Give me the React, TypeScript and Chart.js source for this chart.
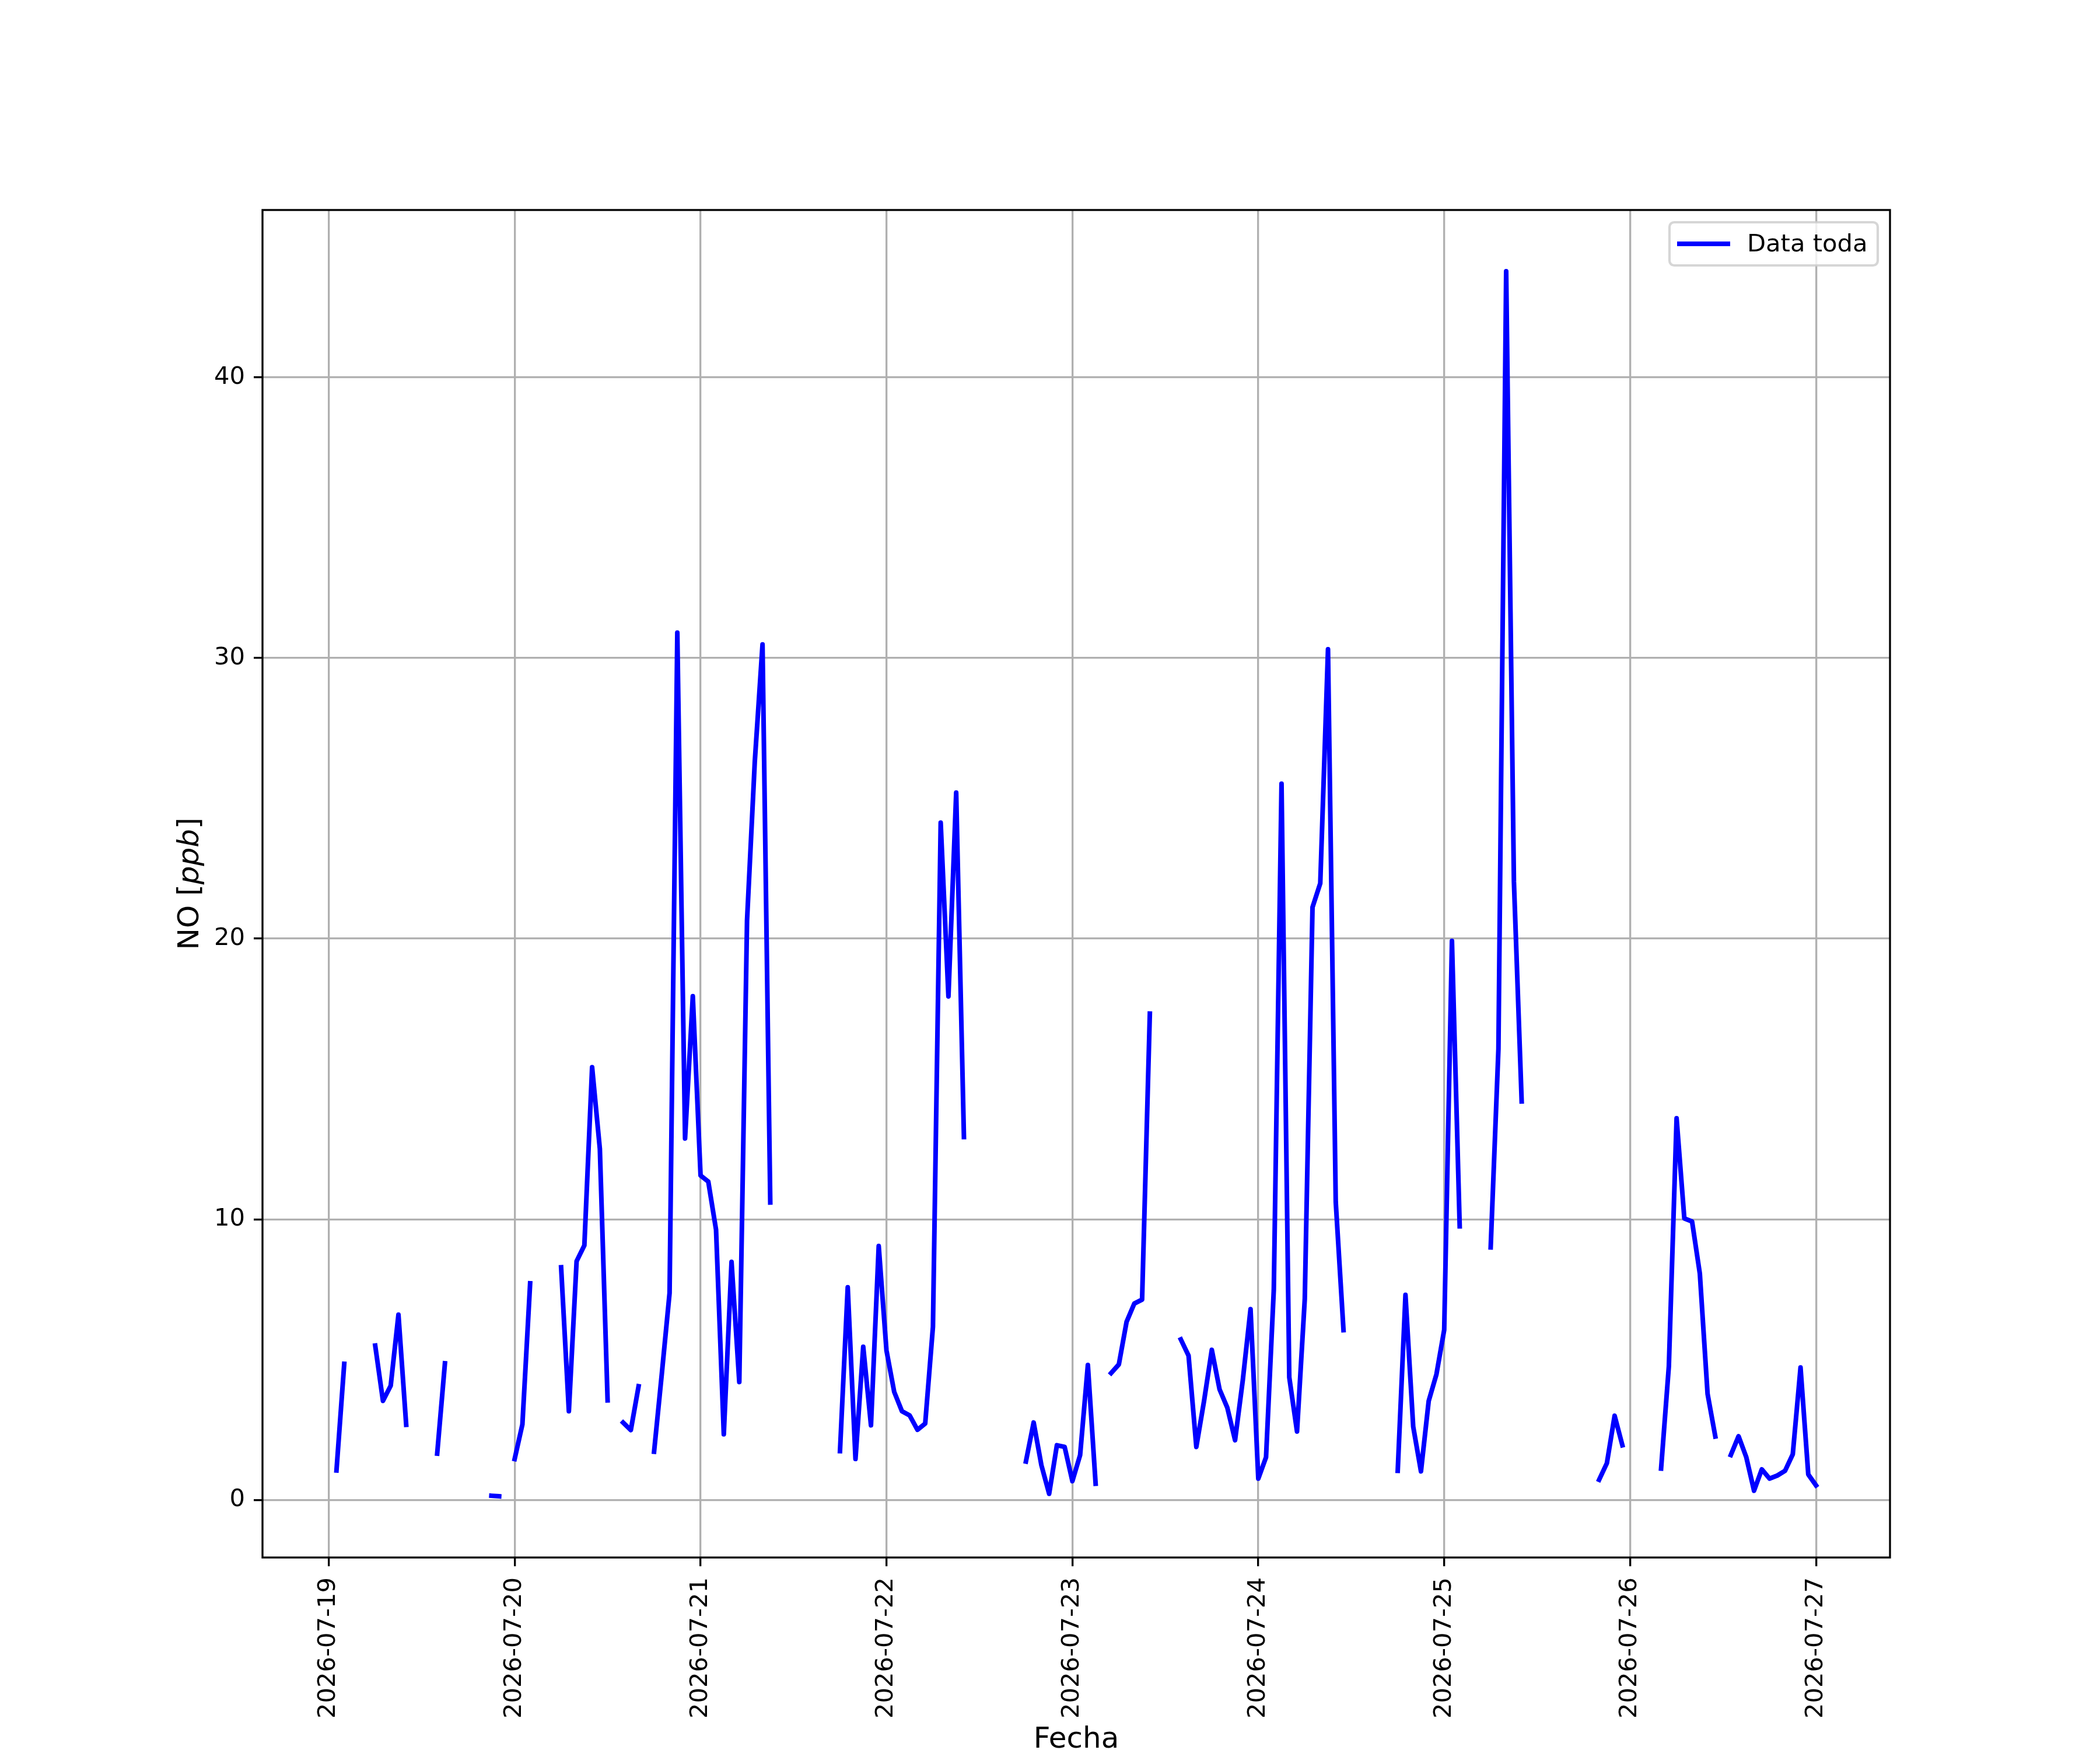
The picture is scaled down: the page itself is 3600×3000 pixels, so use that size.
import React, { useEffect, useRef } from "react";
import { Chart, registerables } from "chart.js";

Chart.register(...registerables);

// Tick labels (one per day, midnight)
const dateLabels = [
  "2026-07-19", "2026-07-20", "2026-07-21", "2026-07-22", "2026-07-23",
  "2026-07-24", "2026-07-25", "2026-07-26", "2026-07-27",
];
const yTicks = [0, 10, 20, 30, 40];
const seriesLabel = "Data toda";

// Hourly NO values [ppb], one array per day starting at 00:00 (null = no data)
const day19 = [null, 1.05, 4.85, null, null, null, 5.5, 3.53, 4.07, 6.6, 2.68, null, null, null, 1.65, 4.87, null, null, null, null, null, 0.15, 0.13, null];
const day20 = [1.46, 2.69, 7.72, null, null, null, 8.29, 3.16, 8.51, 9.07, 15.42, 12.51, 3.55, null, 2.76, 2.49, 4.05, null, 1.72, 4.5, 7.37, 30.9, 12.88, 17.95];
const day21 = [11.56, 11.34, 9.63, 2.34, 8.48, 4.2, 20.64, 26.3, 30.48, 10.6, null, null, null, null, null, null, null, null, 1.74, 7.58, 1.46, 5.46, 2.66, 9.05];
const day22 = [5.33, 3.85, 3.16, 3.01, 2.5, 2.72, 6.17, 24.13, 17.94, 25.2, 12.93, null, null, null, null, null, null, null, 1.37, 2.76, 1.24, 0.22, 1.95, 1.89];
const day23 = [0.67, 1.6, 4.81, 0.58, null, 4.52, 4.83, 6.35, 7.0, 7.14, 17.33, null, null, null, 5.72, 5.14, 1.89, 3.53, 5.35, 3.94, 3.29, 2.13, 4.27, 6.8];
const day24 = [0.76, 1.52, 7.48, 25.52, 4.37, 2.44, 7.15, 21.12, 21.97, 30.31, 10.61, 6.05, null, null, null, null, null, null, 1.04, 7.31, 2.61, 1.02, 3.53, 4.48];
const day25 = [6.06, 19.92, 9.75, null, null, null, 9.0, 16.06, 43.78, 22.03, 14.2, null, null, null, null, null, null, null, null, null, 0.72, 1.31, 3.0, 1.95];
const day26 = [null, null, null, null, 1.12, 4.76, 13.6, 10.03, 9.92, 8.07, 3.78, 2.26, null, 1.6, 2.27, 1.52, 0.33, 1.09, 0.76, 0.87, 1.04, 1.63, 4.72, 0.91];
const day27 = [0.52];

const FONT = "'DejaVu Sans'";
const LINE_W = 8;

export default function App() {
  const ref = useRef<HTMLCanvasElement>(null);

  useEffect(() => {
    const values: (number | null)[] = [
      ...day19, ...day20, ...day21, ...day22, ...day23, ...day24, ...day25, ...day26, ...day27,
    ];
    const points = values.map((v, i) => ({ x: i, y: v }));

    const decorPlugin = {
      id: "decor",
      afterDraw(chart: any) {
        const { ctx, chartArea: a } = chart;
        ctx.save();
        // axes frame (spines)
        ctx.strokeStyle = "#000000";
        ctx.lineWidth = 3.33;
        ctx.lineJoin = "miter";
        ctx.strokeRect(a.left, a.top, a.right - a.left, a.bottom - a.top);

        // legend box
        const lx = 2862, ly = 381, lw = 357, lh = 74, r = 8;
        ctx.beginPath();
        ctx.moveTo(lx + r, ly);
        ctx.lineTo(lx + lw - r, ly);
        ctx.arcTo(lx + lw, ly, lx + lw, ly + r, r);
        ctx.lineTo(lx + lw, ly + lh - r);
        ctx.arcTo(lx + lw, ly + lh, lx + lw - r, ly + lh, r);
        ctx.lineTo(lx + r, ly + lh);
        ctx.arcTo(lx, ly + lh, lx, ly + lh - r, r);
        ctx.lineTo(lx, ly + r);
        ctx.arcTo(lx, ly, lx + r, ly, r);
        ctx.closePath();
        ctx.fillStyle = "rgba(255,255,255,0.8)";
        ctx.fill();
        ctx.strokeStyle = "rgba(204,204,204,0.8)";
        ctx.lineWidth = 4.17;
        ctx.stroke();
        // legend handle
        ctx.beginPath();
        ctx.moveTo(2879, 418);
        ctx.lineTo(2962, 418);
        ctx.strokeStyle = "#0000ff";
        ctx.lineWidth = LINE_W;
        ctx.lineCap = "square";
        ctx.stroke();
        // legend text
        ctx.fillStyle = "#000000";
        ctx.font = `41.67px ${FONT}`;
        ctx.textAlign = "left";
        ctx.textBaseline = "alphabetic";
        ctx.fillText(seriesLabel, 2995, 431);

        // x axis title
        ctx.font = `50px ${FONT}`;
        ctx.textAlign = "center";
        ctx.fillText("Fecha", (a.left + a.right) / 2, 2996);

        // y axis title: NO [ppb] with italic ppb
        const parts: [string, string][] = [
          ["NO [", `50px ${FONT}`],
          ["ppb", `italic 50px ${FONT}`],
          ["]", `50px ${FONT}`],
        ];
        let total = 0;
        const widths = parts.map(([t, f]) => {
          ctx.font = f;
          const w = ctx.measureText(t).width;
          total += w;
          return w;
        });
        ctx.translate(340, (a.top + a.bottom) / 2);
        ctx.rotate(-Math.PI / 2);
        ctx.textAlign = "left";
        let cx = -total / 2;
        parts.forEach(([t, f], i) => {
          ctx.font = f;
          ctx.fillText(t, cx, 0);
          cx += widths[i];
        });
        ctx.restore();
      },
    };

    const chart = new Chart(ref.current as HTMLCanvasElement, {
      type: "line",
      data: {
        datasets: [
          {
            label: seriesLabel,
            data: points as any,
            borderColor: "#0000ff",
            backgroundColor: "#0000ff",
            borderWidth: LINE_W,
            pointRadius: 0,
            pointHoverRadius: 0,
            spanGaps: false,
            fill: false,
            tension: 0,
            borderCapStyle: "square",
            borderJoinStyle: "round",
          },
        ],
      },
      options: {
        responsive: false,
        animation: false,
        devicePixelRatio: 1,
        events: [],
        layout: { padding: { left: 0, top: 360, right: 360, bottom: 0 } },
        plugins: {
          legend: { display: false },
          tooltip: { enabled: false },
          title: { display: false },
        },
        scales: {
          x: {
            type: "linear",
            min: -8.55,
            max: 201.55,
            afterBuildTicks: (axis: any) => {
              axis.ticks = dateLabels.map((_, i) => ({ value: i * 24 }));
            },
            afterFit: (axis: any) => {
              axis.height = 330;
            },
            grid: {
              color: "#b0b0b0",
              lineWidth: 3.33,
              tickColor: "#000000",
              tickWidth: 3.33,
              tickLength: 15,
              drawTicks: true,
            },
            border: { display: false },
            ticks: {
              autoSkip: false,
              minRotation: 90,
              maxRotation: 90,
              padding: 19,
              color: "#000000",
              font: { family: FONT, size: 41.67 },
              callback: (v: any) => dateLabels[Math.round(Number(v) / 24)] ?? "",
            },
          },
          y: {
            type: "linear",
            min: -2.05,
            max: 45.96,
            afterBuildTicks: (axis: any) => {
              axis.ticks = yTicks.map((v) => ({ value: v }));
            },
            afterFit: (axis: any) => {
              axis.width = 450;
            },
            grid: {
              color: "#b0b0b0",
              lineWidth: 3.33,
              tickColor: "#000000",
              tickWidth: 3.33,
              tickLength: 15,
              drawTicks: true,
            },
            border: { display: false },
            ticks: {
              padding: 15,
              color: "#000000",
              font: { family: FONT, size: 41.67 },
              callback: (v: any) => String(v),
            },
          },
        },
      },
      plugins: [decorPlugin],
    } as any);

    return () => chart.destroy();
  }, []);

  return (
    <div style={{ position: "absolute", left: 0, top: 0, width: 3600, height: 3000, background: "#ffffff" }}>
      <canvas ref={ref} width={3600} height={3000} style={{ display: "block", width: 3600, height: 3000 }} />
    </div>
  );
}
